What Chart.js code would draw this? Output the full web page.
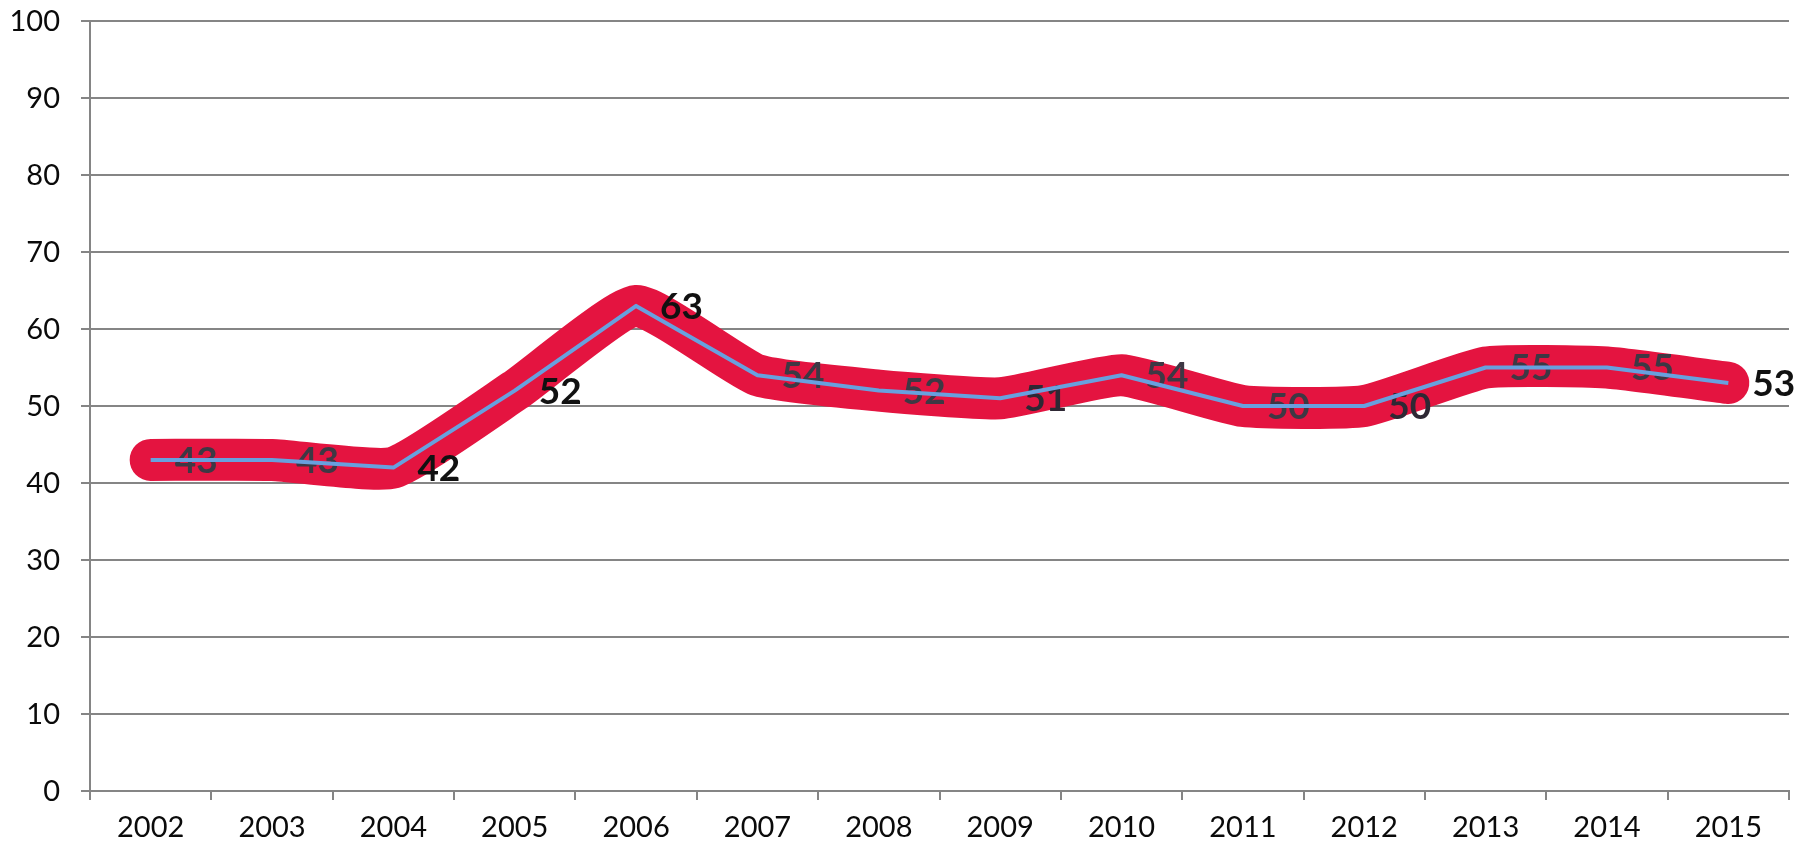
<!DOCTYPE html>
<html>
<head>
<meta charset="utf-8">
<script src="https://cdn.jsdelivr.net/npm/chart.js@4.4.1/dist/chart.umd.min.js"></script>
<style>
  html, body { margin: 0; padding: 0; background: #ffffff; }
  #wrap { width: 1812px; height: 850px; }
</style>
</head>
<body>
<div id="wrap"><canvas id="chart" width="1812" height="850"></canvas></div>
<script>
// Years on the category axis
const years = ['2002', '2003', '2004', '2005', '2006', '2007', '2008',
               '2009', '2010', '2011', '2012', '2013', '2014', '2015'];
// Yearly values (also printed as the point labels)
const values = [43, 43, 42, 52, 63, 54, 52, 51, 54, 50, 50, 55, 55, 53];
// Value axis ticks
const yMin = 0;
const yMax = 100;
const yStep = 10;

// Label ink: labels lying under the marker stroke read as greyer
const labelInk = ['#3e3844', '#3e3844', '#111111', '#111111', '#111111', '#3e3844', '#3e3844',
                  '#2e2834', '#3e3844', '#3e3844', '#2e2834', '#3e3844', '#3e3844', '#111111'];

const FONT = 'Lato, "Open Sans", "DejaVu Sans", sans-serif';
const GRID = '#858585';
const TICK_INK = '#0a0a0a';

// Value labels drawn to the right of each point, right after the marker stroke
const valueLabels = {
  id: 'valueLabels',
  afterDatasetDraw(chart, args) {
    if (args.index !== 0) return;
    const { ctx, scales } = chart;
    ctx.save();
    ctx.font = 'bold 37px ' + FONT;
    ctx.textAlign = 'left';
    ctx.textBaseline = 'middle';
    values.forEach((v, i) => {
      const x = scales.x.getPixelForValue(i) + 24;
      const y = scales.y.getPixelForValue(v) + 1;
      ctx.fillStyle = labelInk[i];
      ctx.fillText(String(v), x, y);
    });
    ctx.restore();
  }
};

// Value-axis numbers, right-aligned beside the tick marks
const yAxisNumbers = {
  id: 'yAxisNumbers',
  afterDraw(chart) {
    const { ctx, scales } = chart;
    const y = scales.y;
    ctx.save();
    ctx.font = '29px ' + FONT;
    ctx.fillStyle = TICK_INK;
    ctx.textAlign = 'right';
    ctx.textBaseline = 'middle';
    y.ticks.forEach(t => {
      ctx.fillText(String(t.value), y.right - 9 - 21, y.getPixelForValue(t.value) + 1);
    });
    ctx.restore();
  }
};

new Chart(document.getElementById('chart'), {
  type: 'line',
  data: {
    labels: years,
    datasets: [
      {
        // broad red marker stroke laid over the series
        data: values,
        borderColor: 'rgb(228, 20, 64)',
        borderWidth: 42,
        borderCapStyle: 'round',
        borderJoinStyle: 'round',
        tension: 0.15,
        pointRadius: 0,
        fill: false,
        order: 2
      },
      {
        // the series line itself
        data: values,
        borderColor: 'rgb(104, 160, 222)',
        borderWidth: 4,
        borderJoinStyle: 'round',
        tension: 0,
        pointRadius: 0,
        fill: false,
        order: 1
      }
    ]
  },
  options: {
    responsive: false,
    animation: false,
    layout: { padding: { top: 21, right: 23, left: 0, bottom: 0 } },
    plugins: {
      legend: { display: false },
      tooltip: { enabled: false }
    },
    scales: {
      x: {
        offset: true,
        grid: {
          offset: true,
          drawOnChartArea: false,
          drawTicks: true,
          tickLength: 9,
          color: GRID,
          lineWidth: 2
        },
        border: { display: true, color: GRID, width: 2 },
        ticks: {
          color: TICK_INK,
          font: { family: FONT, size: 29 },
          padding: 10,
          maxRotation: 0,
          autoSkip: false
        },
        afterFit(scale) { scale.height = 59; }
      },
      y: {
        min: yMin,
        max: yMax,
        grid: {
          color: GRID,
          lineWidth: 2,
          drawTicks: true,
          tickLength: 9
        },
        border: { display: true, color: GRID, width: 2 },
        ticks: {
          stepSize: yStep,
          display: false
        },
        afterFit(scale) { scale.width = 90; }
      }
    }
  },
  plugins: [valueLabels, yAxisNumbers]
});
</script>
</body>
</html>
